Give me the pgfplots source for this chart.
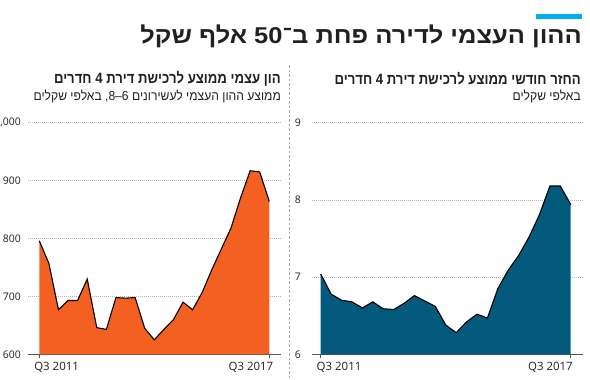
\documentclass[border=0pt]{standalone}
\usepackage{fontspec}
\usepackage{pgfplots}
\usepackage{pgfplotstable}
\pgfplotsset{compat=1.18}
\setmainfont{Open Sans}
\newfontfamily\heb[Script=Hebrew,FakeStretch=0.88]{Liberation Sans}
\newfontfamily\hebreg[Script=Hebrew,FakeStretch=0.935]{Liberation Sans}
\newfontfamily\hebtitle[Script=Hebrew,FakeStretch=1.11]{Liberation Sans}
\TeXXeTstate=1
\definecolor{orng}{HTML}{F26122}
\definecolor{navy}{HTML}{035A7D}
\definecolor{cyanbar}{HTML}{00AEEF}
\definecolor{gridc}{HTML}{B5B5B5}
\definecolor{axc}{HTML}{555555}
\definecolor{txt}{HTML}{231F20}

\pgfplotstableread{
x y
0 796
1 757
2 677
3 693
4 693
5 730
6 646
7 643
8 698
9 697
10 698
11 645
12 625
13 643
14 660
15 690
16 677
17 707
18 746
19 782
20 818
21 870
22 917
23 915
24 864
}\equity

\pgfplotstableread{
x y
0 7.04
1 6.78
2 6.70
3 6.68
4 6.60
5 6.68
6 6.59
7 6.58
8 6.66
9 6.76
10 6.69
11 6.62
12 6.38
13 6.28
14 6.42
15 6.52
16 6.47
17 6.85
18 7.09
19 7.28
20 7.52
21 7.81
22 8.18
23 8.18
24 7.94
}\repay

\pgfplotsset{
  myax/.style={
    scale only axis,
    height=231.6bp,
    separate axis lines,
    axis x line*=bottom,
    axis y line*=left,
    x axis line style={axc, line width=0.8bp, -},
    y axis line style={draw=none},
    ymajorgrids,
    grid style={gridc, line width=0.6bp, dash pattern=on 1bp off 1bp},
    xtick={0,24},
    tick align=outside,
    major tick length=4bp,
    xtick style={axc, line width=0.8bp},
    ytick style={draw=none},
    tick label style={font=\fontsize{10.5}{12}\selectfont, text=txt},
    xticklabel style={font=\fontsize{11.5}{13}\selectfont, inner sep=0pt, yshift=-4bp},
    yticklabel style={anchor=east, inner sep=0pt},
    /pgf/number format/assume math mode=true,
  }
}

\begin{document}
\begin{tikzpicture}[x=1bp,y=1bp]
\path[use as bounding box] (0,0) rectangle (590,379);
\fill[cyanbar] (536,360) rectangle (582,365);
\node[anchor=base east, inner sep=0pt, text=txt, font=\hebtitle\bfseries\fontsize{23}{27}\selectfont] at (582,335.7) {\beginR ההון העצמי לדירה פחת ב־\beginL 50\endL{} אלף שקל\endR};

% subtitles
\node[anchor=base east, inner sep=0pt, text=txt, font=\heb\bfseries\fontsize{15}{18}\selectfont] at (281,296) {\beginR הון עצמי ממוצע לרכישת דירת 4 חדרים\endR};
\node[anchor=base east, inner sep=0pt, text=txt, font=\hebreg\fontsize{13}{15}\selectfont] at (281,278.3) {\beginR ממוצע ההון העצמי לעשירונים \beginL 6–8\endL, באלפי שקלים\endR};
\node[anchor=base east, inner sep=0pt, text=txt, font=\heb\bfseries\fontsize{15}{18}\selectfont] at (581,295) {\beginR החזר חודשי ממוצע לרכישת דירת 4 חדרים\endR};
\node[anchor=base east, inner sep=0pt, text=txt, font=\hebreg\fontsize{13}{15}\selectfont] at (581,278.3) {\beginR באלפי שקלים\endR};

% separator
\draw[gray!70, line width=0.8bp, dash pattern=on 2.5bp off 2bp] (289,314) -- (289,0);

\begin{axis}[myax,
  at={(28bp,24.7bp)}, anchor=south west,
  width=252.5bp,
  xmin=-1.179, xmax=25.17,
  ymin=600, ymax=1000,
  ytick={600,700,800,900,1000},
  yticklabel style={xshift=-3bp},
  xticklabels={\makebox[0pt][l]{\hspace{-5bp}Q3 2011},\makebox[0pt][r]{Q3 2017\hspace{-4bp}}},
]
\addplot[fill=orng, draw=none] table[x=x,y=y]{\equity} \closedcycle;
\addplot[black, line width=1.1bp] table[x=x,y=y]{\equity};
\end{axis}

\begin{axis}[myax,
  at={(312bp,24.7bp)}, anchor=south west,
  width=270.5bp,
  xmin=-0.836, xmax=25.13,
  ymin=6, ymax=9,
  ytick={6,7,8,9},
  yticklabel style={xshift=-7bp},
  xticklabels={\makebox[0pt][l]{\hspace{-4bp}Q3 2011},\makebox[0pt][r]{Q3 2017\hspace{-2bp}}},
]
\addplot[fill=navy, draw=none] table[x=x,y=y]{\repay} \closedcycle;
\addplot[black, line width=1.1bp] table[x=x,y=y]{\repay};
\end{axis}
\end{tikzpicture}
\end{document}
